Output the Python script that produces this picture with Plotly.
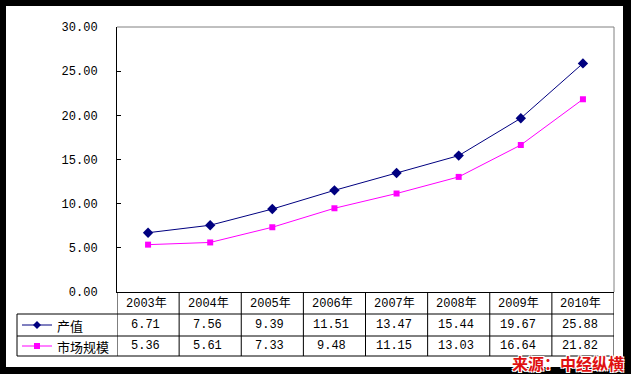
import plotly.graph_objects as go

years = ["2003年", "2004年", "2005年", "2006年", "2007年", "2008年", "2009年", "2010年"]
output_value = [6.71, 7.56, 9.39, 11.51, 13.47, 15.44, 19.67, 25.88]
market_size = [5.36, 5.61, 7.33, 9.48, 11.15, 13.03, 16.64, 21.82]
series_names = ["产值", "市场规模"]
source_text = "来源：中经纵横"

W, H = 631, 374
def px(x):
    return x / W
def py(y):
    return 1 - y / H

PL, PR, PT, PB = 117, 614, 27, 292
ROW1, ROW2, ROW3 = 314, 336, 356
TL = 17

MONO = "Liberation Mono, Noto Sans CJK SC, monospace"
CJK = "Noto Sans CJK SC, sans-serif"
NAVY = "#000080"
MAG = "#FF00FF"

xs = list(range(len(years)))

fig = go.Figure()
fig.add_trace(go.Scatter(x=xs, y=output_value, mode="lines+markers", name=series_names[0],
                         line=dict(color=NAVY, width=1),
                         marker=dict(symbol="diamond", size=8, color=NAVY)))
fig.add_trace(go.Scatter(x=xs, y=market_size, mode="lines+markers", name=series_names[1],
                         line=dict(color=MAG, width=1),
                         marker=dict(symbol="square", size=6, color=MAG)))

shapes = []
shapes.append(dict(type="rect", xref="paper", yref="paper", x0=px(6), x1=px(623), y0=py(367), y1=py(6),
                   fillcolor="white", line=dict(width=0), layer="below"))
shapes.append(dict(type="line", xref="paper", yref="paper", x0=px(PL), x1=px(PR), y0=py(PT), y1=py(PT),
                   line=dict(color="#808080", width=1)))
shapes.append(dict(type="line", xref="paper", yref="paper", x0=px(PR), x1=px(PR), y0=py(PT), y1=py(PB),
                   line=dict(color="#808080", width=1)))
for yy in (ROW1, ROW2, ROW3):
    shapes.append(dict(type="line", xref="paper", yref="paper", x0=px(TL), x1=px(PR), y0=py(yy), y1=py(yy),
                       line=dict(color="black", width=1)))
shapes.append(dict(type="line", xref="paper", yref="paper", x0=px(TL), x1=px(TL), y0=py(ROW1), y1=py(ROW3),
                   line=dict(color="black", width=1)))
for k in range(len(years) + 1):
    shapes.append(dict(type="line", xref="x", yref="paper", x0=k - 0.5, x1=k - 0.5, y0=py(PB), y1=py(ROW3),
                       line=dict(color="black", width=1)))
kx0, kx1, kc = 22, 52, 37
ky1, ky2 = (ROW1 + ROW2) / 2, (ROW2 + ROW3) / 2
shapes.append(dict(type="line", xref="paper", yref="paper", x0=px(kx0), x1=px(kx1), y0=py(ky1), y1=py(ky1),
                   line=dict(color=NAVY, width=1)))
d = 4
shapes.append(dict(type="path", xref="paper", yref="paper",
                   path=f"M {px(kc-d)},{py(ky1)} L {px(kc)},{py(ky1-d)} L {px(kc+d)},{py(ky1)} L {px(kc)},{py(ky1+d)} Z",
                   fillcolor=NAVY, line=dict(color=NAVY, width=0)))
shapes.append(dict(type="line", xref="paper", yref="paper", x0=px(kx0), x1=px(kx1), y0=py(ky2), y1=py(ky2),
                   line=dict(color=MAG, width=1)))
s = 3
shapes.append(dict(type="rect", xref="paper", yref="paper", x0=px(kc-s), x1=px(kc+s), y0=py(ky2+s), y1=py(ky2-s),
                   fillcolor=MAG, line=dict(color=MAG, width=0)))

annotations = []
ycat = (PB + ROW1) / 2
for i, yr in enumerate(years):
    annotations.append(dict(x=i, y=py(ycat), xref="x", yref="paper", text=yr, showarrow=False,
                            xanchor="center", yanchor="middle", xshift=-2,
                            font=dict(family=MONO, size=12, color="black")))
    annotations.append(dict(x=i, y=py(ky1), xref="x", yref="paper", text=f"{output_value[i]:.2f}", showarrow=False,
                            xanchor="center", yanchor="middle", xshift=-3,
                            font=dict(family=MONO, size=12, color="black")))
    annotations.append(dict(x=i, y=py(ky2), xref="x", yref="paper", text=f"{market_size[i]:.2f}", showarrow=False,
                            xanchor="center", yanchor="middle", xshift=-3,
                            font=dict(family=MONO, size=12, color="black")))
annotations.append(dict(x=px(55), y=py(ky1), xref="paper", yref="paper", text=series_names[0], showarrow=False,
                        xanchor="left", yanchor="middle", font=dict(family=CJK, size=13, color="black")))
annotations.append(dict(x=px(55), y=py(ky2), xref="paper", yref="paper", text=series_names[1], showarrow=False,
                        xanchor="left", yanchor="middle", font=dict(family=CJK, size=13, color="black")))
annotations.append(dict(x=px(626), y=py(363), xref="paper", yref="paper", text=f"<b>{source_text}</b>",
                        showarrow=False, xanchor="right", yanchor="middle",
                        font=dict(family=CJK, size=16, color="#E01010",
                                  shadow="1px 1px 0 white, -1px -1px 0 white, 1px -1px 0 white, -1px 1px 0 white")))

fig.update_layout(
    width=W, height=H, margin=dict(l=0, r=0, t=0, b=0, pad=0, autoexpand=False),
    paper_bgcolor="black", plot_bgcolor="white", showlegend=False,
    shapes=shapes, annotations=annotations,
    xaxis=dict(domain=[px(PL), px(PR)], range=[-0.5, len(years) - 0.5], showticklabels=False,
               automargin=False,
               showgrid=False, zeroline=False, showline=True, linecolor="black", linewidth=1, ticks=""),
    yaxis=dict(domain=[py(PB), py(PT)], range=[0, 30], dtick=5, tickformat=".2f",
               automargin=False,
               showgrid=False, zeroline=False, showline=True, linecolor="black", linewidth=1,
               ticks="inside", ticklen=4, tickcolor="black", ticklabelstandoff=16,
               tickfont=dict(family=MONO, size=12, color="black")),
)

fig.write_html("out.html", config={"displayModeBar": False},
               post_script="document.body.style.margin='0';document.documentElement.style.overflow='hidden';document.body.style.overflow='hidden';")
